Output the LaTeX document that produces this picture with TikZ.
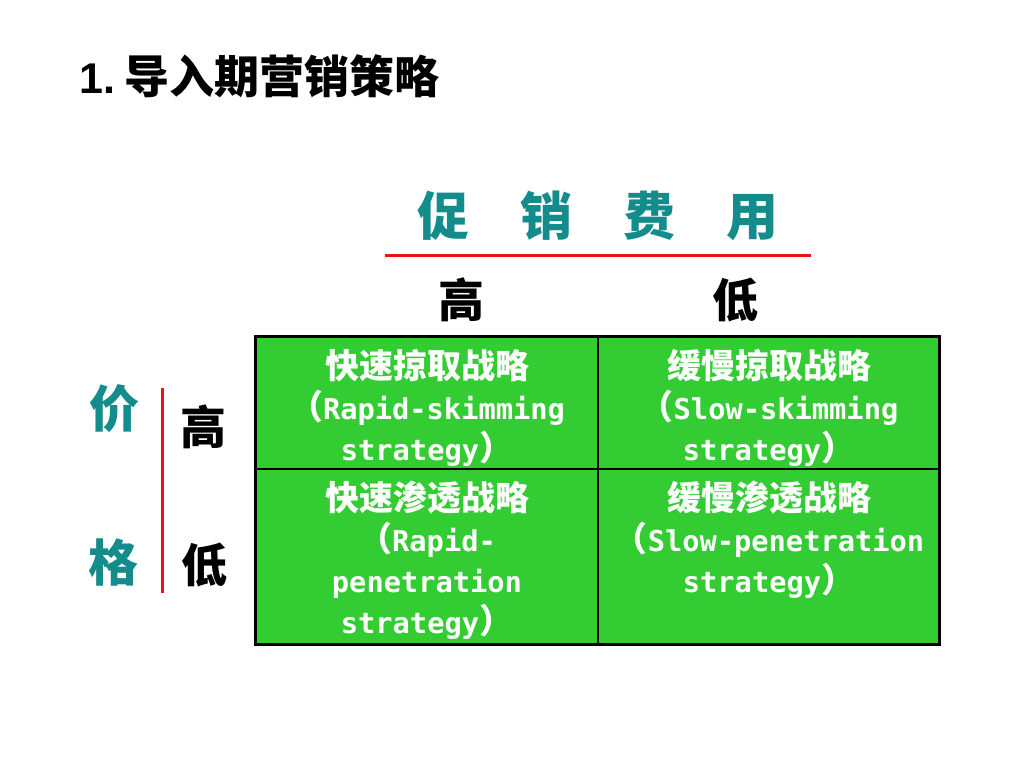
\documentclass[tikz,border=0pt]{standalone}
\usepackage{fontspec}
\newfontfamily\cjk{Noto Sans CJK SC}
\newfontfamily\arialb{Liberation Sans}
\newfontfamily\mono{DejaVu Sans Mono}
\definecolor{cellgreen}{RGB}{51,204,51}
\definecolor{tealc}{RGB}{20,140,140}
\definecolor{redline}{RGB}{230,20,20}
\newcommand\lat[1]{{\mono\bfseries\fontsize{28.7}{41}\selectfont #1}}
\tikzset{
  celltext/.style={anchor=north, inner sep=0pt, align=center, text=white,
    font=\cjk\bfseries\fontsize{34}{41}\selectfont},
  axislabel/.style={inner sep=0pt, text=tealc, font=\cjk\bfseries\fontsize{50}{50}\selectfont},
  levellabel/.style={inner sep=0pt, text=black, font=\cjk\bfseries\fontsize{46}{46}\selectfont},
  redrule/.style={draw=redline, line width=3pt},
  gridline/.style={draw=black, line width=2pt}
}
\begin{document}
\begin{tikzpicture}[x=1pt,y=-1pt]
\useasboundingbox[fill=white] (0,0) rectangle (1024,768);
% title
\node[anchor=base west, inner sep=0pt] (title) at (79,93)
  {{\arialb\bfseries\fontsize{43}{43}\selectfont 1.}\hspace{9pt}{\cjk\bfseries\fontsize{45}{45}\selectfont 导入期营销策略}};
% header
\node[axislabel, font=\cjk\bfseries\fontsize{52}{52}\selectfont, anchor=base] (promo) at (598,235)
  {促\hspace{51pt}销\hspace{51pt}费\hspace{51pt}用};
\coordinate (hl) at (385,255);
\coordinate (hr) at (811,255);
\draw[redrule] (hl) -- (hr);
\node[levellabel] (phigh) at (461,300) {高};
\node[levellabel] (plow) at (735,300) {低};
% left axis
\node[axislabel] (jia) at (114,409) {价};
\node[axislabel] (ge) at (113,562) {格};
\coordinate (vt) at (162,388);
\coordinate (vb) at (162,593);
\draw[redrule] (vt) -- (vb);
\node[levellabel] (qhigh) at (203,427) {高};
\node[levellabel] (qlow) at (204,565) {低};
% table
\coordinate (tl) at (255.5,336.5);
\coordinate (br) at (939.5,644);
\coordinate (mt) at (598,336.5);
\coordinate (mb) at (598,644);
\coordinate (ml) at (255.5,469);
\coordinate (mr) at (939.5,469);
\fill[cellgreen] (tl) rectangle (br);
\draw[gridline] (mt) -- (mb);
\draw[gridline] (ml) -- (mr);
\draw[black, line width=3pt] (tl) rectangle (br);
% cells
\node[celltext] (c11) at (427,349)
  {快速掠取战略\\（\lat{Rapid-skimming}\\\lat{strategy}）};
\node[celltext] (c12) at (769,349)
  {缓慢掠取战略\\（\lat{Slow-skimming}\\\lat{strategy}）};
\node[celltext] (c21) at (427,481)
  {快速渗透战略\\（\lat{Rapid-}\\\lat{penetration}\\\lat{strategy}）};
\node[celltext] (c22) at (769,481)
  {缓慢渗透战略\\（\lat{Slow-penetration}\\\lat{strategy}）};
\end{tikzpicture}
\end{document}
